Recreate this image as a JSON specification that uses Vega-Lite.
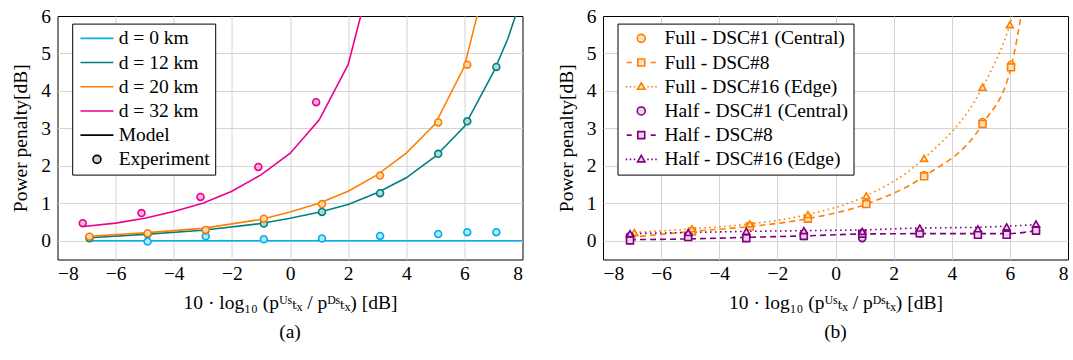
{
  "$schema": "https://vega.github.io/schema/vega-lite/v6.json",
  "padding": {"left": 9.5, "top": 5, "right": 0, "bottom": 0},
  "spacing": 31.5,
  "config": {
    "font": "'Liberation Serif', 'Times New Roman', 'DejaVu Serif', serif",
    "view": {"stroke": "#000", "strokeWidth": 1},
    "axis": {
      "labelFont": "'Liberation Serif', 'Times New Roman', 'DejaVu Serif', serif", "labelFontSize": 19.5, "labelColor": "#000",
      "titleFont": "'Liberation Serif', 'Times New Roman', 'DejaVu Serif', serif", "titleFontSize": 19.5, "titleFontWeight": "normal", "titleColor": "#000",
      "domain": false, "ticks": false, "gridColor": "#d4d4d4", "gridWidth": 1, "labelPadding": 7
    },
    "axisX": {"labelPadding": 5},
    "legend": {
      "labelFont": "'Liberation Serif', 'Times New Roman', 'DejaVu Serif', serif", "labelFontSize": 19.5, "labelColor": "#000", "labelLimit": 400,
      "strokeColor": "#000", "fillColor": "#fff", "strokeWidth": 1, "padding": 5, "rowPadding": 3.2,
      "symbolSize": 100, "symbolStrokeWidth": 1.6, "symbolOpacity": 1
    },
    "title": {"font": "'Liberation Serif', 'Times New Roman', 'DejaVu Serif', serif", "fontSize": 19.5, "fontWeight": "normal", "color": "#000"}
  },
  "datasets": {
    "leftModel": [
      {"s": "d = 0 km", "x": -6.9, "y": 0}, {"s": "d = 0 km", "x": 8, "y": 0},
      {"s": "d = 12 km", "x": -6.9, "y": 0.08}, {"s": "d = 12 km", "x": -5, "y": 0.17}, {"s": "d = 12 km", "x": -3, "y": 0.28}, {"s": "d = 12 km", "x": -1, "y": 0.46}, {"s": "d = 12 km", "x": 0, "y": 0.6}, {"s": "d = 12 km", "x": 1, "y": 0.76}, {"s": "d = 12 km", "x": 2, "y": 0.97}, {"s": "d = 12 km", "x": 3, "y": 1.28}, {"s": "d = 12 km", "x": 4, "y": 1.68}, {"s": "d = 12 km", "x": 5, "y": 2.25}, {"s": "d = 12 km", "x": 6, "y": 3.05}, {"s": "d = 12 km", "x": 7, "y": 4.5}, {"s": "d = 12 km", "x": 7.5, "y": 5.4}, {"s": "d = 12 km", "x": 7.8, "y": 6.1},
      {"s": "d = 20 km", "x": -6.9, "y": 0.12}, {"s": "d = 20 km", "x": -5, "y": 0.21}, {"s": "d = 20 km", "x": -3, "y": 0.33}, {"s": "d = 20 km", "x": -1, "y": 0.57}, {"s": "d = 20 km", "x": 0, "y": 0.77}, {"s": "d = 20 km", "x": 1, "y": 1.0}, {"s": "d = 20 km", "x": 2, "y": 1.32}, {"s": "d = 20 km", "x": 3, "y": 1.76}, {"s": "d = 20 km", "x": 4, "y": 2.34}, {"s": "d = 20 km", "x": 5, "y": 3.12}, {"s": "d = 20 km", "x": 6, "y": 4.65}, {"s": "d = 20 km", "x": 6.5, "y": 6.2},
      {"s": "d = 32 km", "x": -7.1, "y": 0.38}, {"s": "d = 32 km", "x": -6, "y": 0.47}, {"s": "d = 32 km", "x": -5, "y": 0.6}, {"s": "d = 32 km", "x": -4, "y": 0.78}, {"s": "d = 32 km", "x": -3, "y": 1.0}, {"s": "d = 32 km", "x": -2, "y": 1.32}, {"s": "d = 32 km", "x": -1, "y": 1.76}, {"s": "d = 32 km", "x": 0, "y": 2.33}, {"s": "d = 32 km", "x": 1, "y": 3.22}, {"s": "d = 32 km", "x": 2, "y": 4.7}, {"s": "d = 32 km", "x": 2.45, "y": 6.05}
    ],
    "leftExp": [
      {"s": "d = 0 km", "x": -6.9, "y": 0.1}, {"s": "d = 0 km", "x": -4.9, "y": -0.02}, {"s": "d = 0 km", "x": -2.9, "y": 0.12}, {"s": "d = 0 km", "x": -0.9, "y": 0.04}, {"s": "d = 0 km", "x": 1.1, "y": 0.06}, {"s": "d = 0 km", "x": 3.1, "y": 0.13}, {"s": "d = 0 km", "x": 5.1, "y": 0.18}, {"s": "d = 0 km", "x": 6.1, "y": 0.23}, {"s": "d = 0 km", "x": 7.1, "y": 0.23},
      {"s": "d = 12 km", "x": -6.9, "y": 0.07}, {"s": "d = 12 km", "x": -4.9, "y": 0.18}, {"s": "d = 12 km", "x": -2.9, "y": 0.28}, {"s": "d = 12 km", "x": -0.9, "y": 0.46}, {"s": "d = 12 km", "x": 1.1, "y": 0.77}, {"s": "d = 12 km", "x": 3.1, "y": 1.27}, {"s": "d = 12 km", "x": 5.1, "y": 2.32}, {"s": "d = 12 km", "x": 6.1, "y": 3.19}, {"s": "d = 12 km", "x": 7.1, "y": 4.64},
      {"s": "d = 20 km", "x": -6.9, "y": 0.11}, {"s": "d = 20 km", "x": -4.9, "y": 0.2}, {"s": "d = 20 km", "x": -2.9, "y": 0.29}, {"s": "d = 20 km", "x": -0.9, "y": 0.59}, {"s": "d = 20 km", "x": 1.1, "y": 0.98}, {"s": "d = 20 km", "x": 3.1, "y": 1.74}, {"s": "d = 20 km", "x": 5.1, "y": 3.16}, {"s": "d = 20 km", "x": 6.1, "y": 4.7},
      {"s": "d = 32 km", "x": -7.13, "y": 0.47}, {"s": "d = 32 km", "x": -5.11, "y": 0.74}, {"s": "d = 32 km", "x": -3.08, "y": 1.17}, {"s": "d = 32 km", "x": -1.09, "y": 1.97}, {"s": "d = 32 km", "x": 0.9, "y": 3.7}
    ],
    "leftKeys": [
      {"s": "d = 0 km"}, {"s": "d = 12 km"}, {"s": "d = 20 km"}, {"s": "d = 32 km"}, {"s": "Model"}, {"s": "Experiment"}
    ],
    "rightKeys": [
      {"s": "Full - DSC#1 (Central)"}, {"s": "Full - DSC#8"}, {"s": "Full - DSC#16 (Edge)"}, {"s": "Half - DSC#1 (Central)"}, {"s": "Half - DSC#8"}, {"s": "Half - DSC#16 (Edge)"}
    ],
    "rightLines": [
      {"s": "Full - DSC#8", "x": -7.07, "y": 0.09}, {"s": "Full - DSC#8", "x": -4.94, "y": 0.25}, {"s": "Full - DSC#8", "x": -2.95, "y": 0.38}, {"s": "Full - DSC#8", "x": -0.95, "y": 0.59}, {"s": "Full - DSC#8", "x": 1.06, "y": 0.98}, {"s": "Full - DSC#8", "x": 3.05, "y": 1.72}, {"s": "Full - DSC#8", "x": 5.06, "y": 3.12}, {"s": "Full - DSC#8", "x": 6.04, "y": 4.63}, {"s": "Full - DSC#8", "x": 6.45, "y": 6.3},
      {"s": "Full - DSC#16 (Edge)", "x": -6.92, "y": 0.22}, {"s": "Full - DSC#16 (Edge)", "x": -4.94, "y": 0.32}, {"s": "Full - DSC#16 (Edge)", "x": -2.95, "y": 0.45}, {"s": "Full - DSC#16 (Edge)", "x": -0.95, "y": 0.7}, {"s": "Full - DSC#16 (Edge)", "x": 1.06, "y": 1.2}, {"s": "Full - DSC#16 (Edge)", "x": 3.05, "y": 2.2}, {"s": "Full - DSC#16 (Edge)", "x": 5.06, "y": 4.1}, {"s": "Full - DSC#16 (Edge)", "x": 6.0, "y": 5.77}, {"s": "Full - DSC#16 (Edge)", "x": 6.2, "y": 6.3},
      {"s": "Half - DSC#8", "x": -7.07, "y": 0.03}, {"s": "Half - DSC#8", "x": -5.07, "y": 0.05}, {"s": "Half - DSC#8", "x": -3.07, "y": 0.09}, {"s": "Half - DSC#8", "x": -1.09, "y": 0.13}, {"s": "Half - DSC#8", "x": 0.92, "y": 0.18}, {"s": "Half - DSC#8", "x": 2.9, "y": 0.19}, {"s": "Half - DSC#8", "x": 4.9, "y": 0.19}, {"s": "Half - DSC#8", "x": 5.89, "y": 0.19}, {"s": "Half - DSC#8", "x": 6.9, "y": 0.27},
      {"s": "Half - DSC#16 (Edge)", "x": -7.07, "y": 0.19}, {"s": "Half - DSC#16 (Edge)", "x": -5.07, "y": 0.22}, {"s": "Half - DSC#16 (Edge)", "x": -3.07, "y": 0.25}, {"s": "Half - DSC#16 (Edge)", "x": -1.09, "y": 0.27}, {"s": "Half - DSC#16 (Edge)", "x": 0.92, "y": 0.29}, {"s": "Half - DSC#16 (Edge)", "x": 2.9, "y": 0.34}, {"s": "Half - DSC#16 (Edge)", "x": 4.9, "y": 0.36}, {"s": "Half - DSC#16 (Edge)", "x": 5.89, "y": 0.39}, {"s": "Half - DSC#16 (Edge)", "x": 6.9, "y": 0.43}
    ],
    "rightPts": [
      {"s": "Full - DSC#1 (Central)", "x": -7.07, "y": 0.12}, {"s": "Full - DSC#1 (Central)", "x": -4.94, "y": 0.27}, {"s": "Full - DSC#1 (Central)", "x": -2.95, "y": 0.4}, {"s": "Full - DSC#1 (Central)", "x": -0.95, "y": 0.61}, {"s": "Full - DSC#1 (Central)", "x": 1.06, "y": 1.0}, {"s": "Full - DSC#1 (Central)", "x": 3.05, "y": 1.75}, {"s": "Full - DSC#1 (Central)", "x": 5.06, "y": 3.17}, {"s": "Full - DSC#1 (Central)", "x": 6.04, "y": 4.7},
      {"s": "Full - DSC#8", "x": -7.07, "y": 0.09}, {"s": "Full - DSC#8", "x": -4.94, "y": 0.25}, {"s": "Full - DSC#8", "x": -2.95, "y": 0.38}, {"s": "Full - DSC#8", "x": -0.95, "y": 0.59}, {"s": "Full - DSC#8", "x": 1.06, "y": 0.98}, {"s": "Full - DSC#8", "x": 3.05, "y": 1.72}, {"s": "Full - DSC#8", "x": 5.06, "y": 3.12}, {"s": "Full - DSC#8", "x": 6.04, "y": 4.63},
      {"s": "Full - DSC#16 (Edge)", "x": -6.92, "y": 0.22}, {"s": "Full - DSC#16 (Edge)", "x": -4.94, "y": 0.32}, {"s": "Full - DSC#16 (Edge)", "x": -2.95, "y": 0.45}, {"s": "Full - DSC#16 (Edge)", "x": -0.95, "y": 0.7}, {"s": "Full - DSC#16 (Edge)", "x": 1.06, "y": 1.2}, {"s": "Full - DSC#16 (Edge)", "x": 3.05, "y": 2.2}, {"s": "Full - DSC#16 (Edge)", "x": 5.06, "y": 4.1}, {"s": "Full - DSC#16 (Edge)", "x": 6.0, "y": 5.77},
      {"s": "Half - DSC#1 (Central)", "x": -7.07, "y": 0.13}, {"s": "Half - DSC#1 (Central)", "x": -5.07, "y": 0.13}, {"s": "Half - DSC#1 (Central)", "x": -3.07, "y": 0.12}, {"s": "Half - DSC#1 (Central)", "x": -1.09, "y": 0.13}, {"s": "Half - DSC#1 (Central)", "x": 0.92, "y": 0.07}, {"s": "Half - DSC#1 (Central)", "x": 2.9, "y": 0.2}, {"s": "Half - DSC#1 (Central)", "x": 4.9, "y": 0.2}, {"s": "Half - DSC#1 (Central)", "x": 5.89, "y": 0.22}, {"s": "Half - DSC#1 (Central)", "x": 6.9, "y": 0.27},
      {"s": "Half - DSC#8", "x": -7.07, "y": 0.01}, {"s": "Half - DSC#8", "x": -5.07, "y": 0.1}, {"s": "Half - DSC#8", "x": -3.07, "y": 0.07}, {"s": "Half - DSC#8", "x": -1.09, "y": 0.13}, {"s": "Half - DSC#8", "x": 0.92, "y": 0.19}, {"s": "Half - DSC#8", "x": 2.9, "y": 0.2}, {"s": "Half - DSC#8", "x": 4.9, "y": 0.16}, {"s": "Half - DSC#8", "x": 5.89, "y": 0.16}, {"s": "Half - DSC#8", "x": 6.9, "y": 0.27},
      {"s": "Half - DSC#16 (Edge)", "x": -7.07, "y": 0.19}, {"s": "Half - DSC#16 (Edge)", "x": -5.07, "y": 0.22}, {"s": "Half - DSC#16 (Edge)", "x": -3.07, "y": 0.25}, {"s": "Half - DSC#16 (Edge)", "x": -1.09, "y": 0.27}, {"s": "Half - DSC#16 (Edge)", "x": 0.92, "y": 0.25}, {"s": "Half - DSC#16 (Edge)", "x": 2.9, "y": 0.34}, {"s": "Half - DSC#16 (Edge)", "x": 4.9, "y": 0.32}, {"s": "Half - DSC#16 (Edge)", "x": 5.89, "y": 0.37}, {"s": "Half - DSC#16 (Edge)", "x": 6.9, "y": 0.45}
    ]
  },
  "resolve": {"scale": {"color": "independent", "strokeDash": "independent"}},
  "hconcat": [
    {
      "width": 465, "height": 243.5,
      "title": {"text": "(a)", "orient": "bottom", "offset": 11},
      "resolve": {"scale": {"stroke": "independent", "fill": "independent", "shape": "independent"}},
      "layer": [
        {
          "data": {"name": "leftModel"},
          "mark": {"type": "line", "strokeWidth": 1.6, "clip": true},
          "encoding": {
            "x": {"field": "x", "type": "quantitative", "scale": {"domain": [-8, 8], "nice": false, "zero": false},
              "axis": {"values": [-8, -6, -4, -2, 0, 2, 4, 6, 8], "title": "10 · log₁₀ (pᵁˢₜₓ / pᴰˢₜₓ) [dB]", "titlePadding": 10,
                "gridOpacity": {"condition": {"test": "abs(datum.value) == 8", "value": 0}, "value": 1}}},
            "y": {"field": "y", "type": "quantitative", "scale": {"domain": [-0.5, 6], "nice": false, "zero": false},
              "axis": {"values": [0, 1, 2, 3, 4, 5, 6], "title": "Power penalty[dB]", "titlePadding": 10,
                "gridOpacity": {"condition": {"test": "datum.value == 6", "value": 0}, "value": 1}}},
            "color": {"field": "s", "type": "nominal",
              "scale": {"domain": ["d = 0 km", "d = 12 km", "d = 20 km", "d = 32 km"], "range": ["#00aeef", "#008080", "#ff8000", "#ec008c"]},
              "legend": null}
          }
        },
        {
          "data": {"name": "leftExp"},
          "mark": {"type": "point", "shape": "circle", "filled": true, "size": 48, "strokeWidth": 1.6, "opacity": 1, "clip": true},
          "encoding": {
            "x": {"field": "x", "type": "quantitative"},
            "y": {"field": "y", "type": "quantitative"},
            "stroke": {"field": "s", "type": "nominal", "scale": {"domain": ["d = 0 km", "d = 12 km", "d = 20 km", "d = 32 km"], "range": ["#00aeef", "#008080", "#ff8000", "#ec008c"]}, "legend": null},
            "fill": {"field": "s", "type": "nominal", "scale": {"domain": ["d = 0 km", "d = 12 km", "d = 20 km", "d = 32 km"], "range": ["#b3e7fa", "#b3d9d9", "#ffd9b3", "#f9b3dd"]}, "legend": null}
          }
        },
        {
          "data": {"name": "leftKeys"},
          "mark": {"type": "point", "filled": false, "opacity": 0, "strokeWidth": 1.6},
          "encoding": {
            "stroke": {"field": "s", "type": "nominal",
              "scale": {"domain": ["d = 0 km", "d = 12 km", "d = 20 km", "d = 32 km", "Model", "Experiment"], "range": ["#00aeef", "#008080", "#ff8000", "#ec008c", "#000000", "#000000"]},
              "legend": {"title": null, "orient": "none", "legendX": 14.7, "legendY": 7.6, "symbolOffset": 10, "labelOffset": 12, "symbolOpacity": 1, "symbolSize": 100}},
            "fill": {"field": "s", "type": "nominal",
              "scale": {"domain": ["d = 0 km", "d = 12 km", "d = 20 km", "d = 32 km", "Model", "Experiment"], "range": ["transparent", "transparent", "transparent", "transparent", "transparent", "#cfcfcf"]},
              "legend": {"title": null, "orient": "none", "legendX": 14.7, "legendY": 7.6, "symbolOffset": 10, "labelOffset": 12, "symbolOpacity": 1, "symbolSize": 100}},
            "shape": {"field": "s", "type": "nominal",
              "scale": {"domain": ["d = 0 km", "d = 12 km", "d = 20 km", "d = 32 km", "Model", "Experiment"],
                "range": ["M-3.3,0H3.3", "M-3.3,0H3.3", "M-3.3,0H3.3", "M-3.3,0H3.3", "M-3.3,0H3.3", "M-3.3,0M3.3,0M0.8,0A0.8,0.8,0,1,1,-0.8,0A0.8,0.8,0,1,1,0.8,0Z"]},
              "legend": {"title": null, "orient": "none", "legendX": 14.7, "legendY": 7.6, "symbolOffset": 10, "labelOffset": 12, "symbolOpacity": 1, "symbolSize": 100}}
          }
        }
      ]
    },
    {
      "width": 465, "height": 243.5,
      "title": {"text": "(b)", "orient": "bottom", "offset": 11},
      "resolve": {"scale": {"stroke": "independent", "fill": "independent", "shape": "independent"}},
      "layer": [
        {
          "data": {"name": "rightLines"},
          "mark": {"type": "line", "strokeWidth": 1.6, "clip": true, "interpolate": "monotone"},
          "encoding": {
            "x": {"field": "x", "type": "quantitative", "scale": {"domain": [-8, 8], "nice": false, "zero": false},
              "axis": {"values": [-8, -6, -4, -2, 0, 2, 4, 6, 8], "title": "10 · log₁₀ (pᵁˢₜₓ / pᴰˢₜₓ) [dB]", "titlePadding": 10,
                "gridOpacity": {"condition": {"test": "abs(datum.value) == 8", "value": 0}, "value": 1}}},
            "y": {"field": "y", "type": "quantitative", "scale": {"domain": [-0.5, 6], "nice": false, "zero": false},
              "axis": {"values": [0, 1, 2, 3, 4, 5, 6], "title": "Power penalty[dB]", "titlePadding": 10,
                "gridOpacity": {"condition": {"test": "datum.value == 6", "value": 0}, "value": 1}}},
            "color": {"field": "s", "type": "nominal",
              "scale": {"domain": ["Full - DSC#8", "Full - DSC#16 (Edge)", "Half - DSC#8", "Half - DSC#16 (Edge)"], "range": ["#ff8000", "#ff8000", "#800080", "#800080"]},
              "legend": null},
            "strokeDash": {"field": "s", "type": "nominal",
              "scale": {"domain": ["Full - DSC#8", "Full - DSC#16 (Edge)", "Half - DSC#8", "Half - DSC#16 (Edge)"],
                "range": [[6, 4], [1.6, 3.4], [6, 4], [1.6, 3.4]]}, "legend": null}
          }
        },
        {
          "data": {"name": "rightPts"},
          "mark": {"type": "point", "filled": true, "size": 48, "strokeWidth": 1.6, "opacity": 1, "clip": true},
          "encoding": {
            "x": {"field": "x", "type": "quantitative"},
            "y": {"field": "y", "type": "quantitative"},
            "shape": {"field": "s", "type": "nominal",
              "scale": {"domain": ["Full - DSC#1 (Central)", "Full - DSC#8", "Full - DSC#16 (Edge)", "Half - DSC#1 (Central)", "Half - DSC#8", "Half - DSC#16 (Edge)"],
                "range": ["circle", "square", "triangle-up", "circle", "square", "triangle-up"]}, "legend": null},
            "stroke": {"field": "s", "type": "nominal",
              "scale": {"domain": ["Full - DSC#1 (Central)", "Full - DSC#8", "Full - DSC#16 (Edge)", "Half - DSC#1 (Central)", "Half - DSC#8", "Half - DSC#16 (Edge)"],
                "range": ["#ff8000", "#ff8000", "#ff8000", "#800080", "#800080", "#800080"]}, "legend": null},
            "fill": {"field": "s", "type": "nominal",
              "scale": {"domain": ["Full - DSC#1 (Central)", "Full - DSC#8", "Full - DSC#16 (Edge)", "Half - DSC#1 (Central)", "Half - DSC#8", "Half - DSC#16 (Edge)"],
                "range": ["#ffe0c2", "#ffe0c2", "#ffe0c2", "#ecd3ec", "#ecd3ec", "#ecd3ec"]}, "legend": null}
          }
        },
        {
          "data": {"name": "rightKeys"},
          "mark": {"type": "point", "filled": false, "opacity": 0, "strokeWidth": 1.6},
          "encoding": {
            "stroke": {"field": "s", "type": "nominal",
              "scale": {"domain": ["Full - DSC#1 (Central)", "Full - DSC#8", "Full - DSC#16 (Edge)", "Half - DSC#1 (Central)", "Half - DSC#8", "Half - DSC#16 (Edge)"],
                "range": ["#ff8000", "#ff8000", "#ff8000", "#800080", "#800080", "#800080"]},
              "legend": {"title": null, "orient": "none", "legendX": 14.5, "legendY": 7.6, "symbolOffset": 9, "labelOffset": 13.5, "symbolOpacity": 1, "symbolSize": 100}},
            "fill": {"field": "s", "type": "nominal",
              "scale": {"domain": ["Full - DSC#1 (Central)", "Full - DSC#8", "Full - DSC#16 (Edge)", "Half - DSC#1 (Central)", "Half - DSC#8", "Half - DSC#16 (Edge)"],
                "range": ["#ffe0c2", "#ffe0c2", "#ffe0c2", "#ecd3ec", "#ecd3ec", "#ecd3ec"]},
              "legend": {"title": null, "orient": "none", "legendX": 14.5, "legendY": 7.6, "symbolOffset": 9, "labelOffset": 13.5, "symbolOpacity": 1, "symbolSize": 100}},
            "shape": {"field": "s", "type": "nominal",
              "scale": {"domain": ["Full - DSC#1 (Central)", "Full - DSC#8", "Full - DSC#16 (Edge)", "Half - DSC#1 (Central)", "Half - DSC#8", "Half - DSC#16 (Edge)"],
                "range": [
                  "M-3,0M3,0M0.8,0A0.8,0.8,0,1,1,-0.8,0A0.8,0.8,0,1,1,0.8,0Z",
                  "M-3,0M3,0M-2.9,0H-1.9M1.9,0H2.9M-0.7,-0.7H0.7V0.7H-0.7Z",
                  "M-3,0M3,0M-3.1,0h0.3M-2.3,0h0.3M-1.5,0h0.3M1.2,0h0.3M2,0h0.3M2.8,0h0.3M0,-0.8L0.75,0.5H-0.75Z",
                  "M-3,0M3,0M0.8,0A0.8,0.8,0,1,1,-0.8,0A0.8,0.8,0,1,1,0.8,0Z",
                  "M-3,0M3,0M-2.9,0H-1.9M1.9,0H2.9M-0.7,-0.7H0.7V0.7H-0.7Z",
                  "M-3,0M3,0M-3.1,0h0.3M-2.3,0h0.3M-1.5,0h0.3M1.2,0h0.3M2,0h0.3M2.8,0h0.3M0,-0.8L0.75,0.5H-0.75Z"
                ]},
              "legend": {"title": null, "orient": "none", "legendX": 14.5, "legendY": 7.6, "symbolOffset": 9, "labelOffset": 13.5, "symbolOpacity": 1, "symbolSize": 100}}
          }
        }
      ]
    }
  ]
}
